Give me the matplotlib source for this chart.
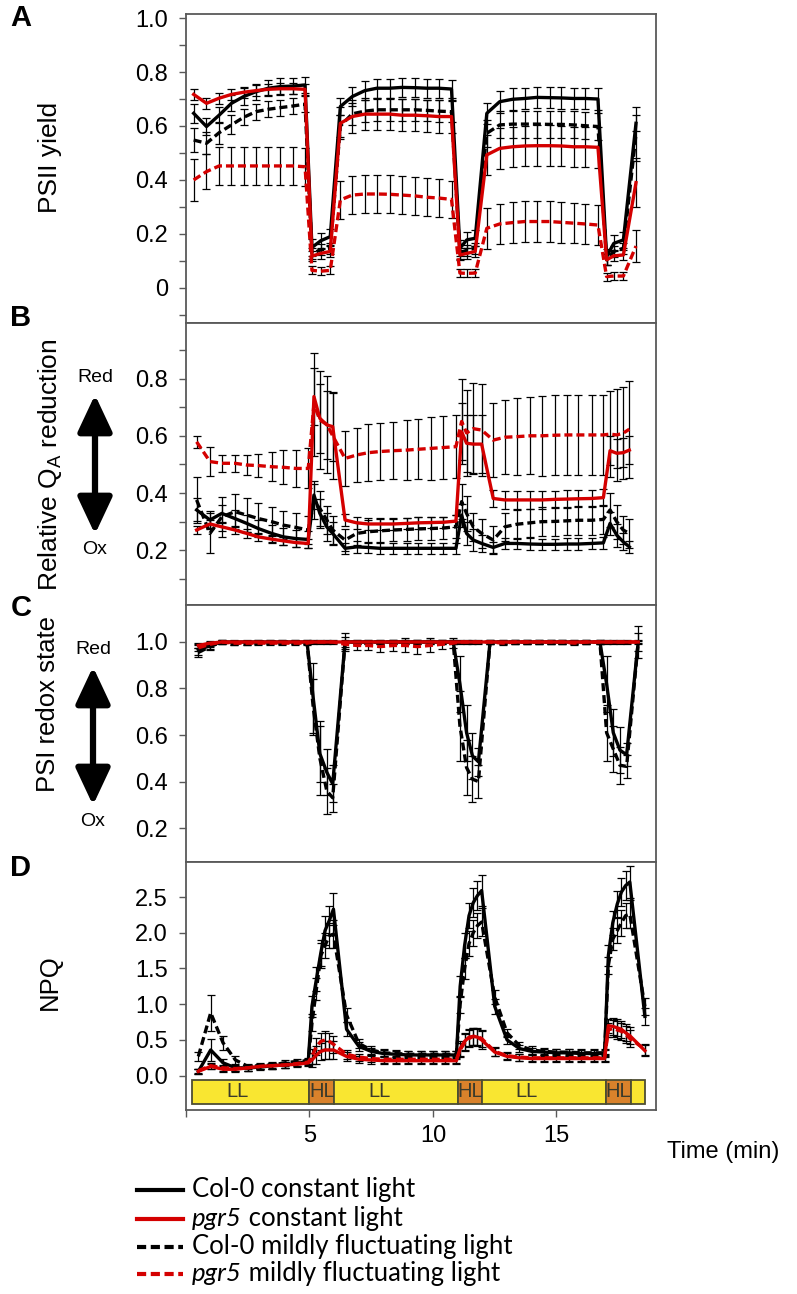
import matplotlib
matplotlib.use('Agg')
import matplotlib.pyplot as plt
from matplotlib.lines import Line2D
from matplotlib.patches import Rectangle, FancyArrowPatch

plt.rcParams['font.family'] = ['Liberation Sans', 'DejaVu Sans']
plt.rcParams['mathtext.fontset'] = 'custom'
plt.rcParams['mathtext.rm'] = 'Liberation Sans'

# ---------------- data ----------------
# A: PSII yield
t_A = [0.31, 0.83, 1.34, 1.84, 2.33, 2.83, 3.33, 3.82, 4.32, 4.82,
       5.10, 5.46, 5.84,
       6.25, 6.73, 7.24, 7.73, 8.25, 8.74, 9.26, 9.75, 10.23, 10.75,
       11.09, 11.37, 11.71,
       12.18, 12.70, 13.22, 13.72, 14.21, 14.72, 15.20, 15.69, 16.17, 16.68,
       17.03, 17.32, 17.71,
       18.22]
A_col_c = [0.647, 0.598, 0.640, 0.684, 0.709, 0.727, 0.740, 0.746, 0.748, 0.752,
           0.150, 0.175, 0.190,
           0.672, 0.709, 0.731, 0.740, 0.740, 0.743, 0.742, 0.740, 0.740, 0.737,
           0.147, 0.178, 0.184,
           0.647, 0.690, 0.699, 0.702, 0.706, 0.705, 0.704, 0.702, 0.702, 0.700,
           0.116, 0.165, 0.178,
           0.610]
A_col_c_se = [0.035, 0.030, 0.030, 0.030, 0.030, 0.030, 0.030, 0.030, 0.030, 0.030,
              0.030, 0.030, 0.030,
              0.030, 0.035, 0.035, 0.035, 0.035, 0.035, 0.035, 0.035, 0.035, 0.035,
              0.030, 0.030, 0.030,
              0.040, 0.040, 0.040, 0.040, 0.040, 0.040, 0.040, 0.040, 0.040, 0.040,
              0.030, 0.030, 0.030,
              0.030]
A_pgr_c = [0.717, 0.684, 0.703, 0.717, 0.725, 0.731, 0.736, 0.738, 0.738, 0.736,
           0.118, 0.128, 0.135,
           0.610, 0.635, 0.644, 0.644, 0.644, 0.640, 0.640, 0.638, 0.635, 0.635,
           0.122, 0.128, 0.135,
           0.493, 0.517, 0.523, 0.526, 0.527, 0.527, 0.526, 0.523, 0.523, 0.521,
           0.104, 0.119, 0.122,
           0.390]
A_pgr_c_se = [0.020, 0.020, 0.020, 0.020, 0.020, 0.020, 0.020, 0.020, 0.020, 0.020,
              0.020, 0.020, 0.020,
              0.060, 0.060, 0.060, 0.060, 0.060, 0.060, 0.060, 0.060, 0.060, 0.060,
              0.020, 0.020, 0.020,
              0.075, 0.075, 0.075, 0.075, 0.075, 0.075, 0.075, 0.075, 0.075, 0.075,
              0.020, 0.020, 0.020,
              0.090]
A_col_f = [0.548, 0.536, 0.575, 0.604, 0.632, 0.653, 0.662, 0.668, 0.674, 0.681,
           0.128, 0.141, 0.147,
           0.600, 0.645, 0.655, 0.660, 0.660, 0.660, 0.660, 0.658, 0.655, 0.653,
           0.128, 0.140, 0.147,
           0.573, 0.604, 0.607, 0.607, 0.607, 0.606, 0.606, 0.604, 0.601, 0.598,
           0.104, 0.135, 0.147,
           0.570]
A_col_f_se = [0.045, 0.040, 0.040, 0.035, 0.030, 0.030, 0.030, 0.030, 0.030, 0.030,
              0.020, 0.020, 0.020,
              0.040, 0.040, 0.040, 0.040, 0.040, 0.040, 0.040, 0.040, 0.040, 0.040,
              0.020, 0.020, 0.020,
              0.050, 0.050, 0.050, 0.050, 0.050, 0.050, 0.050, 0.050, 0.050, 0.050,
              0.020, 0.020, 0.020,
              0.100]
A_pgr_f = [0.400, 0.431, 0.452, 0.452, 0.452, 0.452, 0.452, 0.452, 0.452, 0.449,
           0.065, 0.062, 0.065,
           0.326, 0.344, 0.348, 0.348, 0.347, 0.344, 0.341, 0.336, 0.333, 0.328,
           0.055, 0.054, 0.055,
           0.221, 0.237, 0.242, 0.246, 0.246, 0.246, 0.243, 0.240, 0.237, 0.233,
           0.042, 0.044, 0.044,
           0.155]
A_pgr_f_se = [0.077, 0.066, 0.070, 0.070, 0.070, 0.070, 0.070, 0.070, 0.070, 0.070,
              0.015, 0.015, 0.015,
              0.070, 0.070, 0.070, 0.070, 0.070, 0.070, 0.070, 0.070, 0.070, 0.070,
              0.015, 0.015, 0.015,
              0.075, 0.075, 0.075, 0.075, 0.075, 0.075, 0.075, 0.075, 0.075, 0.075,
              0.015, 0.015, 0.015,
              0.060]

# B: relative QA reduction
t_B = [0.43, 0.97, 1.45, 1.98, 2.46, 2.93, 3.47, 3.94, 4.45, 4.95,
       5.18, 5.42, 5.70, 5.94,
       6.44, 6.91, 7.38, 7.85, 8.39, 8.93, 9.40, 9.91, 10.42, 10.93,
       11.16, 11.36, 11.63, 11.97,
       12.44, 12.91, 13.39, 13.93, 14.40, 14.94, 15.41, 15.88, 16.42, 16.90,
       17.17, 17.44, 17.70, 17.95]
B_col_c = [0.341, 0.306, 0.329, 0.311, 0.294, 0.276, 0.259, 0.247, 0.241, 0.238,
           0.393, 0.329, 0.282, 0.259,
           0.207, 0.212, 0.210, 0.207, 0.207, 0.207, 0.207, 0.207, 0.207, 0.207,
           0.323, 0.259, 0.236, 0.224,
           0.210, 0.224, 0.224, 0.222, 0.221, 0.221, 0.222, 0.222, 0.224, 0.226,
           0.294, 0.253, 0.230, 0.212]
B_col_c_se = [0.040, 0.030, 0.030, 0.030, 0.030, 0.030, 0.030, 0.030, 0.030, 0.030,
              0.050, 0.050, 0.050, 0.040,
              0.020, 0.020, 0.020, 0.020, 0.020, 0.020, 0.020, 0.020, 0.020, 0.020,
              0.040, 0.040, 0.040, 0.030,
              0.020, 0.020, 0.020, 0.020, 0.020, 0.020, 0.020, 0.020, 0.020, 0.020,
              0.040, 0.040, 0.030, 0.020]
B_pgr_c = [0.271, 0.292, 0.282, 0.271, 0.259, 0.247, 0.239, 0.233, 0.227, 0.224,
           0.737, 0.661, 0.638, 0.632,
           0.306, 0.296, 0.292, 0.292, 0.292, 0.294, 0.296, 0.297, 0.298, 0.302,
           0.614, 0.574, 0.571, 0.571,
           0.381, 0.376, 0.376, 0.376, 0.376, 0.378, 0.379, 0.380, 0.381, 0.384,
           0.548, 0.539, 0.541, 0.550]
B_pgr_c_se = [0.015, 0.015, 0.015, 0.015, 0.015, 0.015, 0.015, 0.015, 0.015, 0.015,
              0.100, 0.120, 0.120, 0.120,
              0.020, 0.020, 0.020, 0.020, 0.020, 0.020, 0.020, 0.020, 0.020, 0.020,
              0.100, 0.100, 0.100, 0.100,
              0.030, 0.030, 0.030, 0.030, 0.030, 0.030, 0.030, 0.030, 0.030, 0.030,
              0.050, 0.050, 0.050, 0.050]
B_col_f = [0.376, 0.259, 0.317, 0.335, 0.323, 0.311, 0.300, 0.288, 0.280, 0.271,
           0.370, 0.346, 0.306, 0.271,
           0.236, 0.259, 0.265, 0.268, 0.271, 0.273, 0.275, 0.276, 0.278, 0.282,
           0.370, 0.329, 0.282, 0.259,
           0.236, 0.282, 0.291, 0.296, 0.300, 0.301, 0.303, 0.305, 0.305, 0.308,
           0.341, 0.300, 0.271, 0.259]
B_col_f_se = [0.080, 0.070, 0.070, 0.060, 0.060, 0.055, 0.050, 0.050, 0.050, 0.050,
              0.060, 0.060, 0.050, 0.050,
              0.040, 0.040, 0.040, 0.040, 0.040, 0.040, 0.040, 0.040, 0.040, 0.040,
              0.060, 0.060, 0.050, 0.050,
              0.050, 0.050, 0.050, 0.050, 0.050, 0.050, 0.050, 0.050, 0.050, 0.050,
              0.060, 0.060, 0.050, 0.050]
B_pgr_f = [0.579, 0.510, 0.504, 0.504, 0.498, 0.496, 0.492, 0.490, 0.486, 0.486,
           0.710, 0.655, 0.640, 0.600,
           0.521, 0.533, 0.541, 0.545, 0.548, 0.550, 0.553, 0.556, 0.559, 0.562,
           0.650, 0.610, 0.625, 0.620,
           0.585, 0.595, 0.597, 0.600, 0.600, 0.602, 0.603, 0.603, 0.603, 0.603,
           0.606, 0.603, 0.609, 0.623]
B_pgr_f_se = [0.020, 0.050, 0.030, 0.030, 0.035, 0.040, 0.050, 0.060, 0.065, 0.070,
              0.180, 0.170, 0.170, 0.150,
              0.095, 0.095, 0.100, 0.100, 0.100, 0.105, 0.105, 0.110, 0.110, 0.110,
              0.150, 0.150, 0.160, 0.160,
              0.130, 0.130, 0.135, 0.135, 0.140, 0.140, 0.140, 0.140, 0.140, 0.140,
              0.150, 0.160, 0.160, 0.170]

# C: PSI redox state
t_C = [0.50, 0.97, 1.45, 1.93, 2.45, 2.93, 3.40, 3.90, 4.40, 4.90,
       5.15, 5.42, 5.70, 5.94,
       6.44, 6.91, 7.38, 7.86, 8.40, 8.88, 9.37, 9.88, 10.35, 10.82,
       11.09, 11.36, 11.60, 11.84,
       12.31, 12.85, 13.32, 13.80, 14.28, 14.76, 15.24, 15.72, 16.20, 16.76,
       17.03, 17.30, 17.57, 17.84,
       18.31]
C_col_c = [0.965, 0.985, 1.0, 1.0, 1.0, 1.0, 1.0, 1.0, 1.0, 1.0,
           0.76, 0.52, 0.44, 0.39,
           1.0, 1.0, 1.0, 1.0, 1.0, 1.0, 1.0, 1.0, 1.0, 1.0,
           0.82, 0.61, 0.51, 0.485,
           1.0, 1.0, 1.0, 1.0, 1.0, 1.0, 1.0, 1.0, 1.0, 1.0,
           0.82, 0.61, 0.535, 0.515,
           1.0]
C_col_c_se = [0.02, 0.015, 0.01, 0.01, 0.01, 0.01, 0.01, 0.01, 0.01, 0.01,
              0.15, 0.12, 0.10, 0.08,
              0.04, 0.01, 0.01, 0.01, 0.01, 0.01, 0.01, 0.01, 0.01, 0.01,
              0.12, 0.12, 0.10, 0.06,
              0.01, 0.01, 0.01, 0.01, 0.01, 0.01, 0.01, 0.01, 0.01, 0.01,
              0.12, 0.10, 0.10, 0.05,
              0.07]
C_col_f = [0.955, 0.98, 1.0, 0.995, 0.995, 1.0, 1.0, 1.0, 1.0, 1.0,
           0.72, 0.50, 0.36, 0.33,
           1.0, 1.0, 1.0, 1.0, 1.0, 1.0, 1.0, 1.0, 1.0, 1.0,
           0.64, 0.46, 0.41, 0.40,
           1.0, 1.0, 1.0, 1.0, 1.0, 1.0, 1.0, 1.0, 1.0, 1.0,
           0.61, 0.54, 0.47, 0.465,
           1.0]
C_col_f_se = [0.02, 0.015, 0.01, 0.01, 0.01, 0.01, 0.01, 0.01, 0.01, 0.01,
              0.12, 0.16, 0.10, 0.06,
              0.02, 0.01, 0.01, 0.01, 0.01, 0.01, 0.01, 0.01, 0.01, 0.01,
              0.15, 0.12, 0.10, 0.07,
              0.01, 0.01, 0.01, 0.01, 0.01, 0.01, 0.01, 0.01, 0.01, 0.01,
              0.12, 0.10, 0.08, 0.05,
              0.04]
C_pgr_c = [0.985, 0.995, 1.0, 1.0, 1.0, 1.0, 1.0, 1.0, 1.0, 1.0,
           1.0, 1.0, 1.0, 1.0,
           1.0, 1.0, 1.0, 1.0, 1.0, 1.0, 1.0, 1.0, 1.0, 1.0,
           1.0, 1.0, 1.0, 1.0,
           1.0, 1.0, 1.0, 1.0, 1.0, 1.0, 1.0, 1.0, 1.0, 1.0,
           1.0, 1.0, 1.0, 1.0,
           1.0]
C_pgr_c_se = [0.01, 0.01, 0.005, 0.005, 0.005, 0.005, 0.005, 0.005, 0.005, 0.005,
              0.005, 0.005, 0.005, 0.005,
              0.005, 0.005, 0.005, 0.005, 0.005, 0.005, 0.005, 0.005, 0.005, 0.005,
              0.005, 0.005, 0.005, 0.005,
              0.005, 0.005, 0.005, 0.005, 0.005, 0.005, 0.005, 0.005, 0.005, 0.005,
              0.005, 0.005, 0.005, 0.005,
              0.005]
C_pgr_f = [0.975, 0.99, 1.0, 0.995, 0.995, 0.995, 0.995, 0.995, 0.995, 0.995,
           1.0, 1.0, 1.0, 1.0,
           0.99, 0.985, 0.985, 0.98, 0.985, 0.985, 0.98, 0.985, 0.99, 0.995,
           1.0, 1.0, 1.0, 1.0,
           1.0, 0.995, 1.0, 1.0, 1.0, 1.0, 1.0, 0.995, 1.0, 1.0,
           1.0, 1.0, 1.0, 1.0,
           1.0]
C_pgr_f_se = [0.015, 0.01, 0.01, 0.01, 0.01, 0.01, 0.01, 0.01, 0.01, 0.01,
              0.01, 0.01, 0.01, 0.01,
              0.02, 0.02, 0.02, 0.025, 0.025, 0.03, 0.03, 0.03, 0.02, 0.02,
              0.01, 0.01, 0.01, 0.01,
              0.01, 0.01, 0.01, 0.01, 0.01, 0.01, 0.01, 0.01, 0.01, 0.01,
              0.01, 0.01, 0.01, 0.01,
              0.01]

# D: NPQ
t_D = [0.50, 1.00, 1.50, 2.00, 2.50, 3.00, 3.50, 4.00, 4.50, 4.95,
       5.10, 5.28, 5.46, 5.63, 5.80, 5.97,
       6.50, 7.00, 7.50, 8.00, 8.50, 9.00, 9.50, 10.00, 10.50, 10.95,
       11.10, 11.28, 11.46, 11.63, 11.80, 11.97,
       12.50, 13.00, 13.50, 14.00, 14.50, 15.00, 15.50, 16.00, 16.50, 16.95,
       17.10, 17.28, 17.46, 17.63, 17.80, 17.97,
       18.58]
D_col_c = [0.06, 0.36, 0.18, 0.11, 0.11, 0.12, 0.14, 0.15, 0.17, 0.20,
           0.97, 1.35, 1.72, 2.03, 2.17, 2.33,
           0.65, 0.41, 0.34, 0.31, 0.30, 0.29, 0.29, 0.29, 0.29, 0.29,
           1.25, 1.82, 2.24, 2.42, 2.52, 2.59,
           0.97, 0.50, 0.38, 0.34, 0.33, 0.32, 0.32, 0.31, 0.31, 0.31,
           1.68, 2.14, 2.40, 2.57, 2.66, 2.71,
           0.83]
D_col_c_se = [0.03, 0.15, 0.06, 0.04, 0.04, 0.04, 0.04, 0.04, 0.04, 0.04,
              0.15, 0.17, 0.18, 0.20, 0.20, 0.22,
              0.10, 0.06, 0.05, 0.05, 0.05, 0.05, 0.05, 0.05, 0.05, 0.05,
              0.15, 0.17, 0.18, 0.20, 0.20, 0.22,
              0.10, 0.06, 0.05, 0.05, 0.05, 0.05, 0.05, 0.05, 0.05, 0.05,
              0.15, 0.17, 0.18, 0.20, 0.20, 0.22,
              0.12]
D_col_f = [0.27, 0.88, 0.46, 0.22, 0.13, 0.14, 0.15, 0.18, 0.20, 0.21,
           0.74, 1.21, 1.68, 1.82, 1.96, 1.98,
           0.85, 0.45, 0.36, 0.32, 0.31, 0.30, 0.30, 0.30, 0.30, 0.30,
           1.00, 1.50, 1.85, 2.00, 2.10, 2.15,
           1.10, 0.60, 0.42, 0.36, 0.34, 0.33, 0.33, 0.32, 0.32, 0.32,
           1.54, 1.91, 2.03, 2.14, 2.24, 2.26,
           0.97]
D_col_f_se = [0.06, 0.25, 0.10, 0.05, 0.04, 0.04, 0.04, 0.04, 0.04, 0.04,
              0.12, 0.15, 0.17, 0.18, 0.18, 0.20,
              0.10, 0.06, 0.05, 0.05, 0.05, 0.05, 0.05, 0.05, 0.05, 0.05,
              0.12, 0.15, 0.17, 0.18, 0.18, 0.20,
              0.10, 0.06, 0.05, 0.05, 0.05, 0.05, 0.05, 0.05, 0.05, 0.05,
              0.12, 0.15, 0.17, 0.18, 0.18, 0.20,
              0.12]
D_pgr_c = [0.06, 0.13, 0.09, 0.09, 0.11, 0.13, 0.14, 0.15, 0.16, 0.18,
           0.22, 0.29, 0.34, 0.36, 0.36, 0.36,
           0.27, 0.23, 0.22, 0.21, 0.21, 0.21, 0.21, 0.21, 0.21, 0.21,
           0.38, 0.48, 0.54, 0.55, 0.54, 0.50,
           0.33, 0.27, 0.25, 0.24, 0.24, 0.24, 0.24, 0.24, 0.24, 0.24,
           0.70, 0.69, 0.67, 0.65, 0.60, 0.56,
           0.35]
D_pgr_c_se = [0.03, 0.04, 0.04, 0.04, 0.04, 0.04, 0.04, 0.04, 0.04, 0.04,
              0.10, 0.12, 0.12, 0.12, 0.12, 0.12,
              0.06, 0.05, 0.05, 0.05, 0.05, 0.05, 0.05, 0.05, 0.05, 0.05,
              0.10, 0.12, 0.12, 0.12, 0.12, 0.12,
              0.06, 0.05, 0.05, 0.05, 0.05, 0.05, 0.05, 0.05, 0.05, 0.05,
              0.10, 0.12, 0.12, 0.12, 0.12, 0.12,
              0.08]
D_pgr_f = [0.07, 0.14, 0.11, 0.10, 0.11, 0.13, 0.14, 0.15, 0.17, 0.19,
           0.27, 0.41, 0.48, 0.50, 0.48, 0.44,
           0.30, 0.26, 0.24, 0.23, 0.23, 0.23, 0.23, 0.23, 0.23, 0.23,
           0.36, 0.46, 0.52, 0.55, 0.55, 0.52,
           0.34, 0.28, 0.26, 0.25, 0.25, 0.25, 0.25, 0.25, 0.25, 0.25,
           0.64, 0.66, 0.64, 0.62, 0.58, 0.52,
           0.37]
D_pgr_f_se = D_pgr_c_se

# light regime bar under panel D
phase_start = [0.25, 5.0, 6.0, 11.0, 12.0, 17.0, 18.0]
phase_end = [5.0, 6.0, 11.0, 12.0, 17.0, 18.0, 18.58]
phase_label = ['LL', 'HL', 'LL', 'HL', 'LL', 'HL', '']

# legend entries: italic genotype part + plain remainder
legend_italic = ['', 'pgr5', '', 'pgr5']
legend_rest = ['Col-0 constant light', ' constant light',
               'Col-0 mildly fluctuating light', ' mildly fluctuating light']

# ---------------- drawing ----------------
RED = '#d40000'
DASH = (0, (2.4, 1.2))
LW = 2.4
SPINE = '#595959'
W, H = 797, 1294

fig = plt.figure(figsize=(W / 100, H / 100), dpi=100)


def fy(y):
    return 1 - y / H


def rect(top, bottom):
    return [186 / W, 1 - bottom / H, (656 - 186) / W, (bottom - top) / H]


def draw(ax, t, col_c, col_c_se, pgr_c, pgr_c_se, col_f, col_f_se, pgr_f, pgr_f_se):
    for y, e in [(col_c, col_c_se), (col_f, col_f_se), (pgr_c, pgr_c_se), (pgr_f, pgr_f_se)]:
        ax.errorbar(t, y, yerr=e, fmt='none', ecolor='black', elinewidth=0.9,
                    capsize=2.6, capthick=0.9, zorder=2)
    ax.plot(t, col_c, color='black', lw=LW, zorder=3)
    ax.plot(t, col_f, color='black', lw=LW, ls=DASH, zorder=3)
    ax.plot(t, pgr_c, color=RED, lw=LW, zorder=4)
    ax.plot(t, pgr_f, color=RED, lw=LW, ls=DASH, zorder=4)


def style(ax, ylim, major, labels, minor=None):
    ax.set_xlim(0, 19.03)
    ax.set_ylim(*ylim)
    for s in ax.spines.values():
        s.set_color(SPINE)
        s.set_linewidth(1.3)
    ax.set_yticks(major)
    ax.set_yticklabels(labels)
    if minor is not None:
        ax.set_yticks(minor, minor=True)
    ax.tick_params(axis='y', which='both', direction='out', length=5, width=1,
                   color=SPINE, labelsize=17, pad=8)
    ax.tick_params(axis='x', which='both', bottom=False, labelbottom=False)


axA = fig.add_axes(rect(14, 323))
draw(axA, t_A, A_col_c, A_col_c_se, A_pgr_c, A_pgr_c_se, A_col_f, A_col_f_se, A_pgr_f, A_pgr_f_se)
style(axA, (-0.13, 1.015), [0, 0.2, 0.4, 0.6, 0.8, 1.0], ['0', '0.2', '0.4', '0.6', '0.8', '1.0'],
      [-0.1, 0.1, 0.3, 0.5, 0.7, 0.9])

axB = fig.add_axes(rect(323, 605))
draw(axB, t_B, B_col_c, B_col_c_se, B_pgr_c, B_pgr_c_se, B_col_f, B_col_f_se, B_pgr_f, B_pgr_f_se)
style(axB, (0.009, 0.994), [0.2, 0.4, 0.6, 0.8], ['0.2', '0.4', '0.6', '0.8'],
      [0.1, 0.3, 0.5, 0.7, 0.9])

axC = fig.add_axes(rect(605, 862))
draw(axC, t_C, C_col_c, C_col_c_se, C_pgr_c, C_pgr_c_se, C_col_f, C_col_f_se, C_pgr_f, C_pgr_f_se)
style(axC, (0.054, 1.159), [0.2, 0.4, 0.6, 0.8, 1.0], ['0.2', '0.4', '0.6', '0.8', '1.0'])

axD = fig.add_axes(rect(862, 1110))
draw(axD, t_D, D_col_c, D_col_c_se, D_pgr_c, D_pgr_c_se, D_col_f, D_col_f_se, D_pgr_f, D_pgr_f_se)
style(axD, (-0.48, 2.99), [0, 0.5, 1.0, 1.5, 2.0, 2.5], ['0.0', '0.5', '1.0', '1.5', '2.0', '2.5'])
axD.set_xticks([0, 5, 10, 15])
axD.set_xticklabels(['', '5', '10', '15'])
axD.tick_params(axis='x', which='major', bottom=True, labelbottom=True, direction='out',
                length=5, width=1, color=SPINE, labelsize=17, pad=6)

# light bar
for x0, x1, lab in zip(phase_start, phase_end, phase_label):
    fc = '#d9822b' if lab == 'HL' else '#f9e631'
    axD.add_patch(Rectangle((x0, -0.39), x1 - x0, 0.335, facecolor=fc,
                            edgecolor='#4d4d33', lw=1.3, zorder=1))
for x, lab in zip([2.1, 5.5, 7.85, 11.5, 13.8, 17.5], phase_label[:6]):
    axD.text(x, -0.225, lab, ha='center', va='center', fontsize=14.5, color='#3a3a2a', zorder=2)

# panel letters and axis titles
for lab, y in zip('ABCD', [18, 318, 608, 868]):
    fig.text(21 / W, fy(y), lab, fontsize=21, fontweight='bold', ha='center', va='center')

fig.text(50 / W, fy(157), 'PSII yield', rotation=90, fontsize=19, ha='center', va='center')
fig.text(50 / W, fy(465), r'Relative Q$_\mathregular{A}$ reduction', rotation=90, fontsize=19,
         ha='center', va='center')
fig.text(48 / W, fy(704), 'PSI redox state', rotation=90, fontsize=18.5, ha='center', va='center')
fig.text(50 / W, fy(982), 'NPQ', rotation=90, fontsize=18.5, ha='center', va='center')
fig.text(667 / W, fy(1152), 'Time (min)', fontsize=17, ha='left', va='center')

# Red / Ox arrows
for x, top, bot, red_y, ox_y in [(95, 392, 537, 378, 550), (93, 664, 808, 650, 822)]:
    fig.add_artist(FancyArrowPatch((x / W, fy(top)), (x / W, fy(bot)), transform=fig.transFigure,
                                   arrowstyle='<|-|>,head_length=1.6,head_width=0.75',
                                   mutation_scale=14, lw=4.5, color='black'))
    fig.text(x / W, fy(red_y), 'Red', fontsize=14, ha='center', va='center')
    fig.text(x / W, fy(ox_y), 'Ox', fontsize=14, ha='center', va='center')

# legend, laid out by hand so that only "pgr5" is italic
renderer = fig.canvas.get_renderer()
row_y = [1190, 1219, 1247, 1274]
row_color = ['black', RED, 'black', RED]
row_ls = ['-', '-', (0, (2.2, 1.1)), (0, (2.2, 1.1))]
for yy, c, ls, ital, rest in zip(row_y, row_color, row_ls, legend_italic, legend_rest):
    fig.add_artist(Line2D([137 / W, 183 / W], [fy(yy), fy(yy)], transform=fig.transFigure,
                          color=c, lw=3, ls=ls))
    x = 192 / W
    if ital:
        t = fig.text(x, fy(yy + 7), ital, family='Lato', style='italic', fontsize=18.5,
                     ha='left', va='baseline')
        x = t.get_window_extent(renderer).x1 / W
    fig.text(x, fy(yy + 7), rest, family='Lato', fontsize=18.5, ha='left', va='baseline')

fig.savefig('out.png', dpi=100)
